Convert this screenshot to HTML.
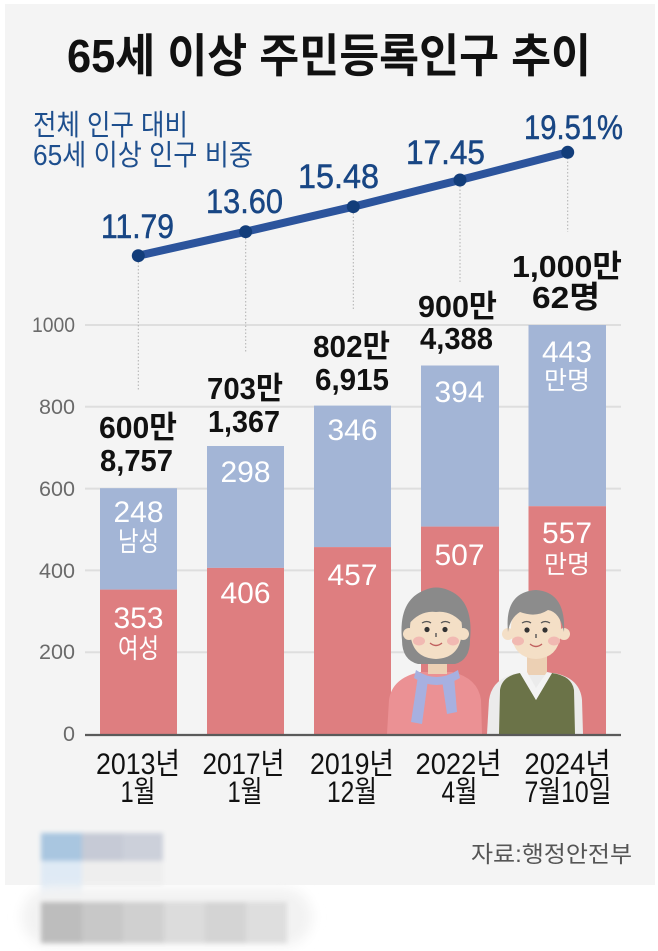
<!DOCTYPE html>
<html><head><meta charset="utf-8"><style>
html,body{margin:0;padding:0;background:#fff;}
svg{display:block;}
text{font-family:"Liberation Sans","Noto Sans CJK KR",sans-serif;}
</style></head><body>
<svg width="658" height="951" viewBox="0 0 658 951" xmlns="http://www.w3.org/2000/svg">
<defs>
<filter id="bl" x="-20%" y="-50%" width="140%" height="200%"><feGaussianBlur stdDeviation="2.5"/></filter>
<filter id="bl2" x="-20%" y="-50%" width="140%" height="200%"><feGaussianBlur stdDeviation="6"/></filter>
</defs>
<rect x="0" y="0" width="658" height="951" fill="#ffffff"/>
<rect x="5" y="4" width="650" height="881" fill="#f4f4f4"/>

<!-- title -->
<text x="67" y="72" font-size="46" font-weight="bold" fill="#111" textLength="524" lengthAdjust="spacingAndGlyphs">65세 이상 주민등록인구 추이</text>

<!-- subtitle -->
<text x="33" y="135" font-size="29" fill="#1e4f8e" textLength="155" lengthAdjust="spacingAndGlyphs">전체 인구 대비</text>
<text x="33" y="165" font-size="29" fill="#1e4f8e" textLength="220" lengthAdjust="spacingAndGlyphs">65세 이상 인구 비중</text>

<!-- gridlines -->
<g stroke="#dedede" stroke-width="2">
<line x1="85" y1="325" x2="621" y2="325"/>
<line x1="85" y1="406.8" x2="621" y2="406.8"/>
<line x1="85" y1="488.6" x2="621" y2="488.6"/>
<line x1="85" y1="570.4" x2="621" y2="570.4"/>
<line x1="85" y1="652.2" x2="621" y2="652.2"/>
</g>

<!-- y labels -->
<g font-size="21" fill="#6a6a6a" text-anchor="end">
<text x="75" y="332" textLength="43" lengthAdjust="spacingAndGlyphs">1000</text>
<text x="75" y="414" textLength="36" lengthAdjust="spacingAndGlyphs">800</text>
<text x="75" y="496" textLength="36" lengthAdjust="spacingAndGlyphs">600</text>
<text x="75" y="578" textLength="36" lengthAdjust="spacingAndGlyphs">400</text>
<text x="75" y="659" textLength="36" lengthAdjust="spacingAndGlyphs">200</text>
<text x="75" y="741" textLength="12" lengthAdjust="spacingAndGlyphs">0</text>
</g>

<!-- bars -->
<g>
<rect x="100" y="488.2" width="77" height="101.4" fill="#a3b5d6"/>
<rect x="100" y="589.6" width="77" height="144.4" fill="#de7e80"/>
<rect x="207" y="446" width="77" height="121.9" fill="#a3b5d6"/>
<rect x="207" y="567.9" width="77" height="166.1" fill="#de7e80"/>
<rect x="314" y="405.6" width="77" height="141.5" fill="#a3b5d6"/>
<rect x="314" y="547.1" width="77" height="186.9" fill="#de7e80"/>
<rect x="421" y="365.5" width="78" height="161.1" fill="#a3b5d6"/>
<rect x="421" y="526.6" width="78" height="207.4" fill="#de7e80"/>
<rect x="528.5" y="325" width="77.5" height="181.2" fill="#a3b5d6"/>
<rect x="528.5" y="506.2" width="77.5" height="227.8" fill="#de7e80"/>
</g>

<!-- in-bar labels -->
<g fill="#ffffff" text-anchor="middle" font-size="30">
<text x="138.5" y="522" textLength="50" lengthAdjust="spacingAndGlyphs">248</text>
<text x="138.5" y="551" font-size="27" textLength="41" lengthAdjust="spacingAndGlyphs">남성</text>
<text x="138.5" y="628" textLength="50" lengthAdjust="spacingAndGlyphs">353</text>
<text x="138.5" y="658" font-size="27" textLength="41" lengthAdjust="spacingAndGlyphs">여성</text>
<text x="245.5" y="482" textLength="50" lengthAdjust="spacingAndGlyphs">298</text>
<text x="245.5" y="603" textLength="50" lengthAdjust="spacingAndGlyphs">406</text>
<text x="352.5" y="440" textLength="50" lengthAdjust="spacingAndGlyphs">346</text>
<text x="352.5" y="585" textLength="50" lengthAdjust="spacingAndGlyphs">457</text>
<text x="459.5" y="402" textLength="50" lengthAdjust="spacingAndGlyphs">394</text>
<text x="459.5" y="565" textLength="50" lengthAdjust="spacingAndGlyphs">507</text>
<text x="567" y="362" textLength="50" lengthAdjust="spacingAndGlyphs">443</text>
<text x="567" y="389" font-size="25" textLength="46" lengthAdjust="spacingAndGlyphs">만명</text>
<text x="567" y="543" textLength="50" lengthAdjust="spacingAndGlyphs">557</text>
<text x="567" y="573" font-size="25" textLength="46" lengthAdjust="spacingAndGlyphs">만명</text>
</g>

<!-- totals -->
<g fill="#111" font-size="31" font-weight="bold" text-anchor="middle">
<text x="138" y="438" textLength="78" lengthAdjust="spacingAndGlyphs">600만</text>
<text x="136.5" y="471" textLength="73" lengthAdjust="spacingAndGlyphs">8,757</text>
<text x="245" y="399" textLength="76" lengthAdjust="spacingAndGlyphs">703만</text>
<text x="244" y="432" textLength="72" lengthAdjust="spacingAndGlyphs">1,367</text>
<text x="351.5" y="357" textLength="77" lengthAdjust="spacingAndGlyphs">802만</text>
<text x="352" y="390" textLength="74" lengthAdjust="spacingAndGlyphs">6,915</text>
<text x="457.5" y="317" textLength="79" lengthAdjust="spacingAndGlyphs">900만</text>
<text x="456.5" y="349" textLength="73" lengthAdjust="spacingAndGlyphs">4,388</text>
<text x="567" y="277" textLength="110" lengthAdjust="spacingAndGlyphs">1,000만</text>
<text x="566" y="308" textLength="68" lengthAdjust="spacingAndGlyphs">62명</text>
</g>

<!-- dotted connectors -->
<g stroke="#b0b0b0" stroke-width="1" stroke-dasharray="1.5 2">
<line x1="138.3" y1="262" x2="138.3" y2="390"/>
<line x1="245.7" y1="238" x2="245.7" y2="353"/>
<line x1="353.3" y1="213" x2="353.3" y2="310"/>
<line x1="460" y1="186" x2="460" y2="283"/>
<line x1="567.7" y1="158" x2="567.7" y2="232"/>
</g>

<!-- line -->
<polyline points="138.3,255.7 245.7,231.7 353.3,206.7 460,180 567.7,152.3" fill="none" stroke="#2c549c" stroke-width="8" stroke-linejoin="round" stroke-linecap="round"/>
<g fill="#123d7a">
<circle cx="138.3" cy="255.7" r="6.5"/>
<circle cx="245.7" cy="231.7" r="6.5"/>
<circle cx="353.3" cy="206.7" r="6.5"/>
<circle cx="460" cy="180" r="6.5"/>
<circle cx="567.7" cy="152.3" r="6.5"/>
</g>
<g fill="#184684" stroke="#184684" stroke-width="0.5" font-size="34">
<text x="101" y="238" textLength="73" lengthAdjust="spacingAndGlyphs">11.79</text>
<text x="206" y="213" textLength="77" lengthAdjust="spacingAndGlyphs">13.60</text>
<text x="298" y="188" textLength="81" lengthAdjust="spacingAndGlyphs">15.48</text>
<text x="406" y="164" textLength="79" lengthAdjust="spacingAndGlyphs">17.45</text>
<text x="524" y="139" textLength="99" lengthAdjust="spacingAndGlyphs">19.51%</text>
</g>

<!-- illustration: woman -->
<g>
<path d="M387,734 L389,700 Q392,678 420,672 L452,672 Q478,678 481,700 L482,734 Z" fill="#eb9194"/>
<rect x="428" y="652" width="19" height="22" fill="#ecd0b4"/>
<path d="M402,640 Q398,600 425,590 Q436,585 448,590 Q474,600 470,640 Q470,660 455,664 L418,664 Q402,660 402,640 Z" fill="#8a8a8a"/>
<circle cx="409" cy="634" r="6" fill="#f4dfc6"/>
<circle cx="463" cy="634" r="6" fill="#f4dfc6"/>
<path d="M410,628 Q410,606 436,604 Q462,606 462,628 Q462,658 436,659 Q410,658 410,628 Z" fill="#f4dfc6"/>
<path d="M408,625 Q412,600 436,598 Q460,600 464,625 Q452,610 436,612 Q420,610 408,625 Z" fill="#8a8a8a"/>
<ellipse cx="419" cy="641" rx="6" ry="4.5" fill="#f1b9b2"/>
<ellipse cx="453" cy="641" rx="6" ry="4.5" fill="#f1b9b2"/>
<circle cx="427" cy="629.5" r="2.6" fill="#333"/>
<circle cx="445" cy="629.5" r="2.6" fill="#333"/>
<path d="M422,623 Q427,620 431,623" stroke="#555" stroke-width="1.2" fill="none"/>
<path d="M441,623 Q445,620 450,623" stroke="#555" stroke-width="1.2" fill="none"/>
<line x1="436" y1="633" x2="436" y2="637" stroke="#555" stroke-width="1.4"/>
<path d="M430,643 Q436,648 442,643" stroke="#c0605e" stroke-width="1.4" fill="none"/>
<path d="M416,670 Q436,684 458,670 L460,678 Q436,692 414,678 Z" fill="#a7b0e0"/>
<path d="M418,676 L428,680 L422,724 L411,722 Z" fill="#a7b0e0"/>
<path d="M442,680 L454,676 L457,712 L447,714 Z" fill="#a7b0e0"/>
</g>

<!-- illustration: man -->
<g>
<path d="M487,734 L489,700 Q492,678 518,673 L554,673 Q580,678 582,700 L583,734 Z" fill="#ebebeb"/>
<path d="M499,734 L500,690 Q502,676 520,673 L536,700 L552,673 Q572,676 574,690 L575,734 Z" fill="#6b7348"/>
<rect x="527" y="652" width="20" height="23" fill="#ecd0b4"/>
<path d="M520,673 L536,700 L552,673 L547,672 L536,688 L527,672 Z" fill="#f3f3f3"/>
<circle cx="508" cy="634" r="6" fill="#f4dfc6"/>
<circle cx="564" cy="634" r="6" fill="#f4dfc6"/>
<path d="M511,628 Q511,606 536,604 Q561,606 561,628 Q561,658 536,659 Q511,658 511,628 Z" fill="#f4dfc6"/>
<path d="M508,632 Q504,592 536,590 Q566,592 564,632 Q560,612 548,610 Q536,618 520,612 Q510,618 508,632 Z" fill="#8c8c8c"/>
<ellipse cx="518" cy="641" rx="6" ry="4.5" fill="#f1b9b2"/>
<ellipse cx="554" cy="641" rx="6" ry="4.5" fill="#f1b9b2"/>
<circle cx="527" cy="630" r="2.6" fill="#333"/>
<circle cx="545" cy="630" r="2.6" fill="#333"/>
<path d="M522,623 Q527,620 531,623" stroke="#555" stroke-width="1.2" fill="none"/>
<path d="M541,623 Q545,620 550,623" stroke="#555" stroke-width="1.2" fill="none"/>
<line x1="536" y1="634" x2="536" y2="638" stroke="#555" stroke-width="1.4"/>
<path d="M530,644 Q536,649 542,644" stroke="#c0605e" stroke-width="1.4" fill="none"/>
</g>

<!-- axis baseline -->
<line x1="85" y1="735" x2="621" y2="735" stroke="#5a5a5a" stroke-width="2.2"/>

<!-- x labels -->
<g fill="#111" font-size="30" text-anchor="middle">
<text x="138" y="774" textLength="84" lengthAdjust="spacingAndGlyphs">2013년</text>
<text x="243.5" y="774" textLength="82" lengthAdjust="spacingAndGlyphs">2017년</text>
<text x="352" y="774" textLength="84" lengthAdjust="spacingAndGlyphs">2019년</text>
<text x="458.5" y="774" textLength="86" lengthAdjust="spacingAndGlyphs">2022년</text>
<text x="567.5" y="774" textLength="86" lengthAdjust="spacingAndGlyphs">2024년</text>
<text x="138" y="802" textLength="35" lengthAdjust="spacingAndGlyphs">1월</text>
<text x="245" y="802" textLength="35" lengthAdjust="spacingAndGlyphs">1월</text>
<text x="352" y="802" textLength="50" lengthAdjust="spacingAndGlyphs">12월</text>
<text x="459.5" y="802" textLength="36" lengthAdjust="spacingAndGlyphs">4월</text>
<text x="568" y="802" textLength="87" lengthAdjust="spacingAndGlyphs">7월10일</text>
</g>

<!-- source -->
<text x="471" y="862" font-size="23" fill="#555" textLength="161" lengthAdjust="spacingAndGlyphs">자료:행정안전부</text>

<!-- blurred logo -->
<g filter="url(#bl)">
<rect x="41" y="833" width="41" height="28" fill="#a9c6e0"/>
<rect x="82" y="833" width="41" height="28" fill="#c6cad6"/>
<rect x="123" y="833" width="40" height="28" fill="#ccd0da"/>
<rect x="41" y="861" width="41" height="26" fill="#dfeaf5"/>
<rect x="82" y="861" width="81" height="24" fill="#eeeeee"/>
<rect x="41" y="887" width="41" height="15" fill="#eaf2fa"/>
</g>
<rect x="22" y="888" width="290" height="58" rx="29" fill="#f2f2f2" filter="url(#bl2)"/>
<g filter="url(#bl)">
<rect x="41" y="902" width="41" height="41" fill="#bdbdbd"/>
<rect x="82" y="902" width="41" height="41" fill="#c8c8c8"/>
<rect x="123" y="902" width="41" height="41" fill="#d0d0d0"/>
<rect x="164" y="902" width="41" height="41" fill="#dcdcdc"/>
<rect x="205" y="902" width="41" height="41" fill="#d4d4d4"/>
<rect x="246" y="902" width="41" height="41" fill="#dedede"/>
</g>
</svg>
</body></html>
